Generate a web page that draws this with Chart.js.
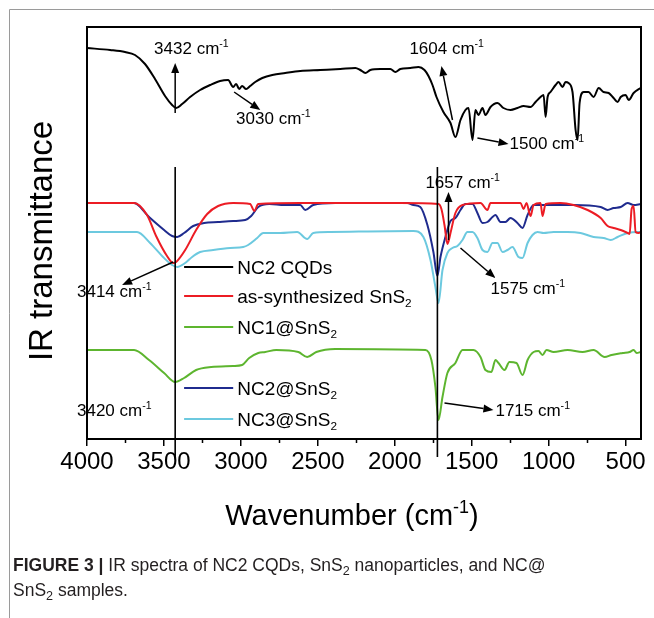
<!DOCTYPE html>
<html>
<head>
<meta charset="utf-8">
<script src="https://cdn.jsdelivr.net/npm/chart.js@4.4.1/dist/chart.umd.min.js"></script>
<style>
  html, body { margin: 0; padding: 0; background: #fff; }
  canvas { display: block; }
</style>
</head>
<body>
<canvas id="irChart" width="654" height="618"></canvas>
<script>
// wavenumber (cm-1) and stacked transmittance (a.u.)
const cqdX = [4000,3850,3753,3688,3623,3558,3493,3447,3421,3382,3330,3265,3200,3135,3083,3050,3031,3011,2992,2966,2940,2907,2861,2796,2712,2614,2484,2354,2256,2224,2191,2159,2094,2029,1996,1964,1899,1846,1807,1781,1755,1729,1684,1638,1606,1573,1541,1521,1495,1476,1456,1430,1411,1378,1333,1294,1248,1203,1163,1118,1085,1053,1033,1020,1007,988,955,936,910,890,871,845,825,812,799,773,741,708,675,643,610,578,552,532,500,480,448,402];
const cqdY = [39.1,38.9,38.7,38.4,37.5,36.0,34.3,33.4,33.1,33.5,34.2,34.9,35.4,35.8,35.9,35.2,35.5,35.0,35.3,35.0,35.3,35.7,36.1,36.4,36.6,36.8,36.9,37.0,37.1,36.9,36.6,36.9,37.0,37.0,36.7,37.0,37.1,37.2,36.9,36.3,35.4,34.2,32.7,31.6,30.2,31.9,32.9,33.1,29.9,32.9,32.4,33.1,32.4,33.2,33.6,33.1,32.9,33.1,33.3,33.2,33.7,34.2,34.4,32.2,34.2,34.7,35.4,35.7,35.2,35.7,35.6,34.7,30.9,29.9,33.6,34.7,34.7,34.2,35.1,34.7,34.6,34.1,33.7,34.2,34.4,33.9,34.6,35.1];

const snsX = [4000,3694,3610,3551,3480,3440,3421,3362,3291,3219,3148,3050,2940,2913,2887,2614,1964,1716,1697,1677,1658,1638,1606,1560,1443,1398,1378,1183,1163,1144,1118,1098,1053,1040,1020,923,838,747,662,617,578,532,487,474,461,448,435,415,400];
const snsY = [23.6,23.6,22.4,20.3,18.3,17.6,17.7,18.9,20.9,22.5,23.3,23.6,23.5,22.8,23.5,23.6,23.6,23.5,23.0,21.4,19.5,20.6,22.6,23.4,23.6,22.9,23.6,23.6,23.0,23.6,22.3,23.4,23.6,22.3,23.5,23.6,23.4,22.9,22.1,21.3,21.1,20.9,20.6,20.5,23.0,23.3,20.7,20.6,20.7];

const nc2X = [4000,3694,3597,3499,3447,3414,3369,3310,3239,3148,3050,2972,2933,2887,2816,2718,2614,2582,2530,2387,1918,1879,1834,1788,1749,1723,1703,1671,1638,1606,1573,1541,1495,1463,1430,1398,1365,1346,1313,1281,1248,1203,1170,1137,1098,1007,838,662,617,578,532,487,448,402];
const nc2Y = [23.6,23.6,22.2,20.9,20.3,20.2,20.6,21.3,21.6,21.7,21.8,21.9,22.3,23.2,23.5,23.4,23.4,22.9,23.4,23.6,23.6,23.4,23.2,21.4,18.7,16.3,18.2,20.2,21.8,22.1,22.9,23.5,23.5,22.6,21.6,21.7,22.2,22.4,21.7,21.7,22.1,21.6,21.1,22.4,23.4,23.4,23.4,23.2,22.9,23.1,23.2,23.6,23.4,23.5];

const nc3X = [4000,3675,3590,3506,3447,3414,3362,3317,3265,3180,3070,2985,2953,2894,2855,2744,2634,2569,2530,2419,1879,1814,1768,1736,1716,1690,1658,1625,1593,1560,1528,1495,1463,1430,1398,1365,1333,1300,1268,1235,1196,1170,1137,1105,1072,1033,968,877,793,708,643,597,552,487,415,402];
const nc3Y = [20.7,20.7,19.6,18.2,17.4,17.2,17.6,18.2,18.7,18.9,19.1,19.2,19.4,20.1,20.6,20.6,20.7,20.0,20.6,20.7,20.8,20.2,17.9,15.2,13.6,16.9,18.6,19.1,19.3,19.9,20.7,20.7,20.1,18.9,18.7,19.6,19.6,18.7,18.9,19.2,18.2,18.1,19.6,20.4,20.7,20.6,20.7,20.7,20.6,20.2,20.1,19.9,20.2,20.6,20.7,20.7];

const nc1X = [4000,3694,3597,3499,3427,3369,3291,3193,3050,2992,2946,2887,2842,2770,2627,2569,2510,2387,1801,1762,1736,1716,1690,1658,1606,1560,1489,1443,1411,1372,1346,1326,1287,1255,1209,1170,1137,1098,1066,1040,1014,968,877,780,708,636,591,519,474,448,428,402];
const nc1Y = [8.9,8.9,7.9,6.6,5.7,6.1,6.9,7.2,7.3,7.4,8.1,8.6,8.7,8.9,8.7,8.2,8.7,9.0,8.9,7.9,5.2,1.9,4.2,6.6,7.6,8.9,8.9,8.2,6.9,6.7,7.9,7.6,6.9,7.7,7.6,6.4,7.9,8.7,8.8,8.4,8.9,8.7,8.9,8.7,8.9,8.2,8.4,8.6,8.7,8.9,8.6,8.7];

const xTicks = [4000, 3500, 3000, 2500, 2000, 1500, 1000, 500];
const xMinorTicks = [3750, 3250, 2750, 2250, 1750, 1250, 750];
const peakLines = [3427, 1723];

const seriesNames = ['NC2 CQDs', 'as-synthesized SnS_{2}', 'NC1@SnS_{2}', 'NC2@SnS_{2}', 'NC3@SnS_{2}'];
const seriesColors = ['#000000', '#ec1c24', '#5db52f', '#1f2b8e', '#6cc9df'];

// peak labels with arrows, in wavenumber / transmittance units
const notes = [
    { label: '3432 cm^{-1}', x: 3564, y: 39.1, from: [3427, 32.6], to: [3427, 37.6] },
    { label: '3030 cm^{-1}', x: 3031, y: 32.1, from: [3044, 34.7], to: [2874, 32.9] },
    { label: '1604 cm^{-1}', x: 1905, y: 39.1, from: [1625, 31.9], to: [1697, 37.3] },
    { label: '1500 cm^{-1}', x: 1254, y: 29.6, from: [1463, 30.1], to: [1261, 29.5] },
    { label: '1657 cm^{-1}', x: 1801, y: 25.7, from: [1651, 19.9], to: [1651, 24.7] },
    { label: '3414 cm^{-1}', x: 4065, y: 14.8, from: [3440, 17.7], to: [3772, 15.4] },
    { label: '1575 cm^{-1}', x: 1378, y: 15.1, from: [1573, 19.1], to: [1346, 16.1] },
    { label: '3420 cm^{-1}', x: 4065, y: 2.9 },
    { label: '1715 cm^{-1}', x: 1346, y: 2.9, from: [1677, 3.6], to: [1359, 2.9] }
];

const FONT = '"Liberation Sans", Arial, sans-serif';

function toPoints(xs, ys) {
    return xs.map((x, i) => ({ x: x, y: ys[i] }));
}

function richParts(str) {
    const out = [];
    const re = /([_^])\{([^}]*)\}/g;
    let last = 0, m;
    while ((m = re.exec(str))) {
        if (m.index > last) out.push({ t: str.slice(last, m.index), k: '' });
        out.push({ t: m[2], k: m[1] });
        last = re.lastIndex;
    }
    if (last < str.length) out.push({ t: str.slice(last), k: '' });
    return out;
}

// draws text with ^{sup} and _{sub}; y is the vertical middle of the capitals
function drawRich(ctx, str, x, y, size, align, weight, smallRatio) {
    const parts = richParts(str);
    const w = weight || 'normal';
    const small = size * (smallRatio || 0.62);
    let total = 0;
    parts.forEach(p => {
        ctx.font = w + ' ' + (p.k ? small : size) + 'px ' + FONT;
        p.w = ctx.measureText(p.t).width;
        total += p.w;
    });
    let cx = align === 'center' ? x - total / 2 : x;
    const base = y + size * 0.36;
    ctx.textAlign = 'left';
    ctx.textBaseline = 'alphabetic';
    parts.forEach(p => {
        ctx.font = w + ' ' + (p.k ? small : size) + 'px ' + FONT;
        let by = base;
        if (p.k === '^') by = base - size * 0.42;
        if (p.k === '_') by = base + size * 0.22;
        ctx.fillText(p.t, cx, by);
        cx += p.w;
    });
    return total;
}

function arrow(ctx, x1, y1, x2, y2) {
    const ang = Math.atan2(y2 - y1, x2 - x1);
    const len = 10, half = 4;
    const bx = x2 - len * Math.cos(ang), by = y2 - len * Math.sin(ang);
    ctx.beginPath();
    ctx.moveTo(x1, y1);
    ctx.lineTo(bx, by);
    ctx.stroke();
    ctx.beginPath();
    ctx.moveTo(x2, y2);
    ctx.lineTo(bx + half * Math.sin(ang), by - half * Math.cos(ang));
    ctx.lineTo(bx - half * Math.sin(ang), by + half * Math.cos(ang));
    ctx.closePath();
    ctx.fill();
}

const decor = {
    id: 'decor',
    beforeDraw(chart) {
        const ctx = chart.ctx;
        ctx.save();
        ctx.fillStyle = '#fff';
        ctx.fillRect(0, 0, chart.width, chart.height);
        // page frame
        ctx.strokeStyle = '#9a9a9a';
        ctx.lineWidth = 1;
        ctx.beginPath();
        ctx.moveTo(9.5, chart.height);
        ctx.lineTo(9.5, 9.5);
        ctx.lineTo(chart.width, 9.5);
        ctx.stroke();
        ctx.restore();
    },
    afterDraw(chart) {
        const ctx = chart.ctx;
        const a = chart.chartArea;
        const xs = chart.scales.x, ys = chart.scales.y;
        ctx.save();

        // plot box
        ctx.strokeStyle = '#000';
        ctx.lineWidth = 2;
        ctx.strokeRect(a.left, a.top, a.right - a.left, a.bottom - a.top);

        // minor ticks
        ctx.lineWidth = 1.5;
        ctx.beginPath();
        xMinorTicks.forEach(v => {
            const px = Math.round(xs.getPixelForValue(v)) + 0.5;
            ctx.moveTo(px, a.bottom);
            ctx.lineTo(px, a.bottom + 4);
        });
        ctx.stroke();

        // peak marker lines
        ctx.lineWidth = 1.6;
        ctx.beginPath();
        peakLines.forEach(v => {
            const px = xs.getPixelForValue(v);
            ctx.moveTo(px, ys.getPixelForValue(27.2));
            ctx.lineTo(px, ys.getPixelForValue(-1.8));
        });
        ctx.stroke();

        // legend inside the plot
        const legY = [17.2, 14.3, 11.2, 5.1, 2.0];
        const lx1 = xs.getPixelForValue(3369), lx2 = xs.getPixelForValue(3050);
        const tx = xs.getPixelForValue(3024);
        seriesNames.forEach((name, i) => {
            const py = ys.getPixelForValue(legY[i]);
            ctx.strokeStyle = seriesColors[i];
            ctx.lineWidth = 2;
            ctx.beginPath();
            ctx.moveTo(lx1, py);
            ctx.lineTo(lx2, py);
            ctx.stroke();
            ctx.fillStyle = '#000';
            drawRich(ctx, name, tx, py, 19, 'left');
        });

        // peak annotations
        ctx.strokeStyle = '#000';
        ctx.fillStyle = '#000';
        ctx.lineWidth = 1.5;
        notes.forEach(n => {
            if (n.from) {
                arrow(ctx, xs.getPixelForValue(n.from[0]), ys.getPixelForValue(n.from[1]),
                    xs.getPixelForValue(n.to[0]), ys.getPixelForValue(n.to[1]));
            }
            drawRich(ctx, n.label, xs.getPixelForValue(n.x), ys.getPixelForValue(n.y), 17, 'left');
        });

        // axis titles
        ctx.fillStyle = '#000';
        drawRich(ctx, 'Wavenumber (cm^{-1})', 352, 515, 29, 'center');
        ctx.save();
        ctx.translate(40, 241);
        ctx.rotate(-Math.PI / 2);
        drawRich(ctx, 'IR transmittance', 0, 0, 33, 'center');
        ctx.restore();

        // caption
        ctx.fillStyle = '#231f20';
        const bw = drawRich(ctx, 'FIGURE 3 |', 13, 565, 17.5, 'left', 'bold');
        drawRich(ctx, ' IR spectra of NC2 CQDs, SnS_{2} nanoparticles, and NC@', 13 + bw, 565, 17.5, 'left', 'normal', 0.72);
        drawRich(ctx, 'SnS_{2} samples.', 13, 590, 17.5, 'left', 'normal', 0.72);

        ctx.restore();
    }
};

const pairs = [[cqdX, cqdY], [snsX, snsY], [nc1X, nc1Y], [nc2X, nc2Y], [nc3X, nc3Y]];

const irChart = new Chart(document.getElementById('irChart').getContext('2d'), {
    type: 'line',
    data: {
        datasets: pairs.map((p, i) => ({
            label: seriesNames[i],
            data: toPoints(p[0], p[1]),
            borderColor: seriesColors[i],
            borderWidth: 2,
            pointRadius: 0,
            fill: false,
            cubicInterpolationMode: 'monotone'
        }))
    },
    options: {
        responsive: false,
        animation: false,
        events: [],
        layout: { padding: { left: 87, right: 13, top: 27, bottom: 147 } },
        plugins: {
            legend: { display: false },
            tooltip: { enabled: false }
        },
        scales: {
            x: {
                type: 'linear',
                reverse: true,
                min: 400,
                max: 4000,
                afterBuildTicks: s => { s.ticks = xTicks.map(v => ({ value: v })); },
                afterFit: s => { s.height = 32; },
                ticks: {
                    color: '#000',
                    font: { family: FONT, size: 24 },
                    padding: 2,
                    maxRotation: 0,
                    autoSkip: false,
                    callback: v => String(v)
                },
                grid: { drawOnChartArea: false, tickLength: 7, color: '#000', lineWidth: 1.5 },
                border: { color: '#000', width: 2 }
            },
            y: { display: false, min: 0, max: 41.2 }
        }
    },
    plugins: [decor]
});
</script>
</body>
</html>
